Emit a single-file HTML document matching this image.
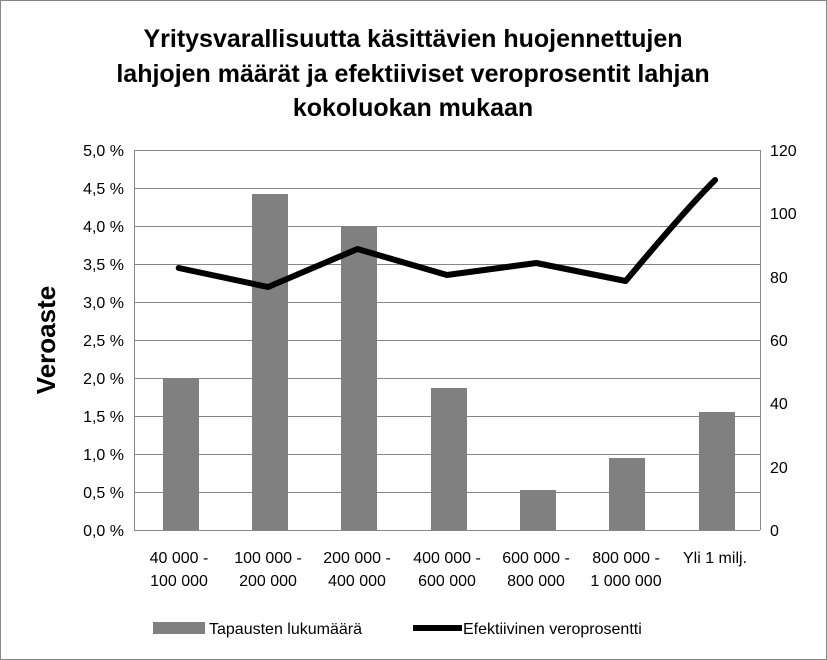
<!DOCTYPE html>
<html><head><meta charset="utf-8"><style>
body{margin:0;background:#fff}
svg{display:block;font-family:"Liberation Sans",sans-serif}
</style></head><body>
<svg width="827" height="660" viewBox="0 0 827 660">
<rect x="0.5" y="0.5" width="826" height="659" fill="#fff" stroke="#868686"/>
<g font-size="25" font-weight="bold" text-anchor="middle" fill="#000">
<text x="413" y="47">Yritysvarallisuutta käsittävien huojennettujen</text>
<text x="413" y="82">lahjojen määrät ja efektiiviset veroprosentit lahjan</text>
<text x="413" y="116">kokoluokan mukaan</text>
</g>
<g stroke="#868686" stroke-width="1">
<line x1="134" y1="150.5" x2="760" y2="150.5"/><line x1="134" y1="188.5" x2="760" y2="188.5"/>
<line x1="134" y1="226.5" x2="760" y2="226.5"/><line x1="134" y1="264.5" x2="760" y2="264.5"/>
<line x1="134" y1="302.5" x2="760" y2="302.5"/><line x1="134" y1="340.5" x2="760" y2="340.5"/>
<line x1="134" y1="378.5" x2="760" y2="378.5"/><line x1="134" y1="416.5" x2="760" y2="416.5"/>
<line x1="134" y1="454.5" x2="760" y2="454.5"/><line x1="134" y1="492.5" x2="760" y2="492.5"/>
<line x1="134.5" y1="150" x2="134.5" y2="530"/><line x1="760.5" y1="150" x2="760.5" y2="530"/>
</g>
<g fill="#808080">
<rect x="163" y="378" width="36" height="152"/>
<rect x="252" y="194" width="36" height="336"/>
<rect x="341" y="226" width="36" height="304"/>
<rect x="431" y="388" width="36" height="142"/>
<rect x="520" y="490" width="36" height="40"/>
<rect x="609" y="458" width="36" height="72"/>
<rect x="699" y="412" width="36" height="118"/>
</g>
<line x1="134" y1="530.5" x2="760" y2="530.5" stroke="#868686"/>
<path d="M178.7,268 L268,287 L357.4,249 L446.9,275 L536.3,263 L625.7,281 C660,240 690,205 715.1,180" fill="none" stroke="#000" stroke-width="6" stroke-linejoin="round" stroke-linecap="round"/>
<g font-size="16" fill="#000" text-anchor="end">
<text x="124" y="156">5,0 %</text><text x="124" y="194">4,5 %</text><text x="124" y="232">4,0 %</text>
<text x="124" y="270">3,5 %</text><text x="124" y="308">3,0 %</text><text x="124" y="346">2,5 %</text>
<text x="124" y="384">2,0 %</text><text x="124" y="422">1,5 %</text><text x="124" y="460">1,0 %</text>
<text x="124" y="498">0,5 %</text><text x="124" y="536">0,0 %</text>
</g>
<g font-size="16" fill="#000" text-anchor="start">
<text x="770" y="156">120</text><text x="770" y="219">100</text><text x="770" y="283">80</text>
<text x="770" y="346">60</text><text x="770" y="409">40</text><text x="770" y="473">20</text><text x="770" y="536">0</text>
</g>
<g font-size="16" fill="#000" text-anchor="middle">
<text x="179" y="563">40 000 -</text><text x="179" y="586">100 000</text>
<text x="268" y="563">100 000 -</text><text x="268" y="586">200 000</text>
<text x="357" y="563">200 000 -</text><text x="357" y="586">400 000</text>
<text x="447" y="563">400 000 -</text><text x="447" y="586">600 000</text>
<text x="536" y="563">600 000 -</text><text x="536" y="586">800 000</text>
<text x="626" y="563">800 000 -</text><text x="626" y="586">1 000 000</text>
<text x="715" y="563">Yli 1 milj.</text>
</g>
<text transform="translate(55,340) rotate(-90)" font-size="26" font-weight="bold" text-anchor="middle">Veroaste</text>
<rect x="153" y="622" width="52" height="12" fill="#808080"/>
<text x="209" y="634" font-size="16">Tapausten lukumäärä</text>
<line x1="413" y1="628" x2="462" y2="628" stroke="#000" stroke-width="6"/>
<text x="463" y="634" font-size="16">Efektiivinen veroprosentti</text>
</svg>
</body></html>
